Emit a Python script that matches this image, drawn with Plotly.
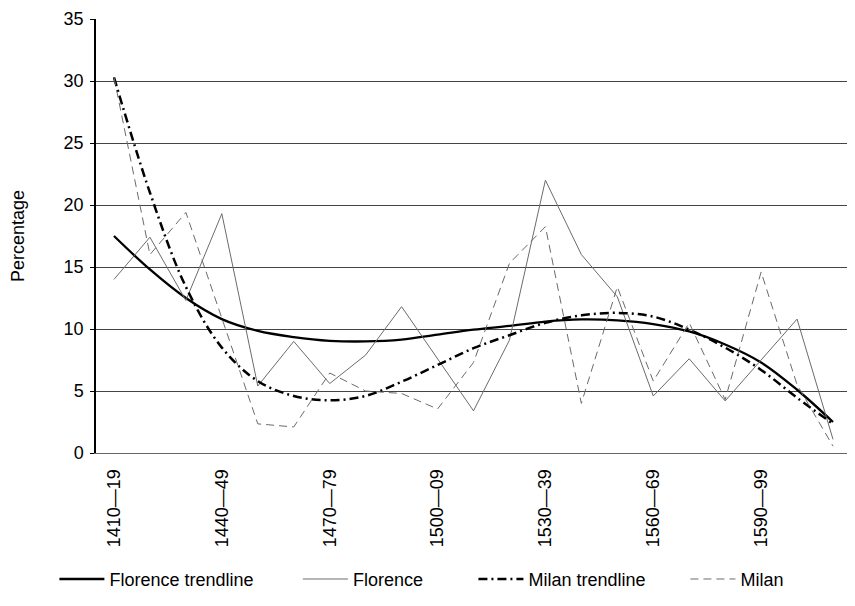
import plotly.graph_objects as go

decades = ["1410—19", "1420—29", "1430—39", "1440—49", "1450—59", "1460—69", "1470—79",
           "1480—89", "1490—99", "1500—09", "1510—19", "1520—29", "1530—39", "1540—49",
           "1550—59", "1560—69", "1570—79", "1580—89", "1590—99", "1600—09", "1610—19"]
tick_labels = decades[::3]

florence = [14.0, 17.4, 12.3, 19.3, 5.4, 9.0, 5.6, 7.9, 11.8, 7.6, 3.4,
            9.1, 22.0, 16.0, 12.6, 4.6, 7.6, 4.2, 7.5, 10.8, 1.1]
milan = [30.3, 16.0, 19.4, 10.8, 2.35, 2.1, 6.45, 5.0, 4.8, 3.55, 7.3,
         15.3, 18.25, 4.0, 13.4, 5.8, 10.5, 4.3, 14.6, 5.5, 0.55]
florence_trend = [17.5, 14.8, 12.5, 10.8, 9.85, 9.35, 9.05, 9.0, 9.15, 9.55, 9.95,
                  10.25, 10.6, 10.77, 10.7, 10.4, 9.8, 8.75, 7.3, 5.1, 2.5]
milan_trend = [30.3, 21.0, 13.4, 8.5, 5.8, 4.6, 4.25, 4.6, 5.75, 7.1, 8.45,
               9.5, 10.5, 11.1, 11.3, 11.0, 9.95, 8.5, 6.7, 4.45, 2.35]

fig = go.Figure()
fig.add_trace(go.Scatter(x=decades, y=florence_trend, name="Florence trendline", mode="lines",
                         legend="legend",
                         line=dict(color="black", width=2.3, shape="spline", smoothing=1.0)))
fig.add_trace(go.Scatter(x=decades, y=florence, name="Florence", mode="lines",
                         legend="legend2",
                         line=dict(color="#6b6b6b", width=1)))
fig.add_trace(go.Scatter(x=decades, y=milan_trend, name="Milan trendline", mode="lines",
                         legend="legend3",
                         line=dict(color="black", width=2.5, dash="9px,4px,2px,4px",
                                   shape="spline", smoothing=1.0)))
fig.add_trace(go.Scatter(x=decades, y=milan, name="Milan", mode="lines",
                         legend="legend4",
                         line=dict(color="#6b6b6b", width=1, dash="8px,5px")))

font = "Liberation Sans, Arial, sans-serif"


def leg(xpos):
    return dict(orientation="h", x=xpos, xanchor="left", y=-0.291, yanchor="middle",
                font=dict(size=18), bgcolor="rgba(0,0,0,0)", itemwidth=45)


# The page body has an 8px margin, so the figure is sized/offset to compensate.
fig.update_layout(
    width=847, height=598,
    margin=dict(l=88, r=4, t=11, b=152.5, autoexpand=False),
    paper_bgcolor="white", plot_bgcolor="white",
    font=dict(family=font, size=18, color="black"),
    showlegend=True,
    legend=leg(-0.0551),
    legend2=leg(0.2674),
    legend3=leg(0.4999),
    legend4=leg(0.7807),
    xaxis=dict(type="category", range=[-0.5, 20.5], tickvals=tick_labels, ticktext=tick_labels,
               tickangle=-90, showgrid=False, ticks="", ticklabelstandoff=8,
               showline=True, linecolor="#666", linewidth=1, zeroline=False,
               automargin=False, tickfont=dict(size=18)),
    yaxis=dict(range=[0, 35], dtick=5, showgrid=True, gridcolor="#444", gridwidth=1,
               showline=True, linecolor="black", linewidth=1.5, ticks="outside", ticklen=4,
               tickcolor="black", zeroline=False, tickfont=dict(size=18),
               ticklabelstandoff=3, automargin=False,
               title=dict(text="Percentage", font=dict(size=18), standoff=40)),
)

fig.write_html("out.html")
